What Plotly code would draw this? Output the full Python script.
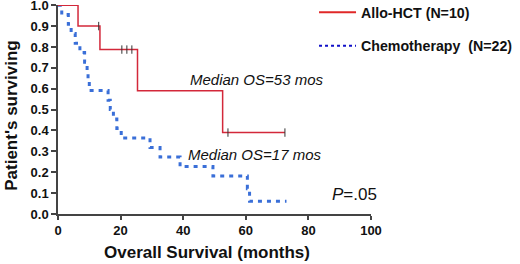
import plotly.graph_objects as go

# Allo-HCT (N=10) Kaplan-Meier steps
allo_t = [0, 6.4, 13.4, 25.4, 52.6, 72.5]
allo_s = [1.0, 0.9, 0.7875, 0.59, 0.39, 0.39]
allo_cens_t = [13.0, 20.4, 22.0, 23.6, 54.3, 72.5]
allo_cens_s = [0.9, 0.7875, 0.7875, 0.7875, 0.39, 0.39]

# Chemotherapy (N=22) Kaplan-Meier steps
chemo_t = [0, 1.2, 3.3, 4.2, 5.5, 7.0, 8.5, 9.3, 9.6, 10.0, 16.0, 16.7, 17.7,
           18.8, 20.2, 29.4, 32.6, 39.0, 49.5, 60.5, 61.2, 73.0]
chemo_s = [1.0, 0.955, 0.909, 0.864, 0.818, 0.773, 0.727, 0.682, 0.636, 0.591,
           0.545, 0.5, 0.455, 0.409, 0.364, 0.318, 0.273, 0.227, 0.182, 0.121,
           0.061, 0.061]

x_ticks = [0, 20, 40, 60, 80, 100]
y_ticks = [0.0, 0.1, 0.2, 0.3, 0.4, 0.5, 0.6, 0.7, 0.8, 0.9, 1.0]

RED = "#d3283a"
BLUE = "#3a6fd8"
FONT = "Liberation Sans, Arial, sans-serif"

fig = go.Figure()
fig.add_trace(go.Scatter(x=chemo_t, y=chemo_s, mode="lines", line_shape="hv",
                         line=dict(color=BLUE, width=3, dash="4px,5px"),
                         showlegend=False))
fig.add_trace(go.Scatter(x=allo_t, y=allo_s, mode="lines", line_shape="hv",
                         line=dict(color=RED, width=1.5), showlegend=False))
fig.add_trace(go.Scatter(x=allo_cens_t, y=allo_cens_s, mode="markers",
                         marker=dict(symbol="line-ns", size=6,
                                     line=dict(color="#333333", width=1)),
                         showlegend=False))
# legend entries
fig.add_trace(go.Scatter(x=[None], y=[None], mode="lines", legendgroup="a",
                         line=dict(color="#e02828", width=2),
                         name="<b>Allo-HCT (N=10)</b>"))
fig.add_trace(go.Scatter(x=[None], y=[None], mode="lines", legendgroup="b",
                         line=dict(color="#1010c8", width=2, dash="dot"),
                         name="<b>Chemotherapy  (N=22)</b>"))

fig.add_annotation(x=41.5, y=0.642, xref="x", yref="y", xanchor="left",
                   text="<i>Median OS=53 mos</i>", showarrow=False,
                   font=dict(family=FONT, size=15, color="#111111"))
fig.add_annotation(x=41.0, y=0.283, xref="x", yref="y", xanchor="left",
                   text="<i>Median OS=17 mos</i>", showarrow=False,
                   font=dict(family=FONT, size=15, color="#111111"))
fig.add_annotation(x=87.0, y=0.092, xref="x", yref="y", xanchor="left",
                   text="<i>P</i>=.05", showarrow=False,
                   font=dict(family=FONT, size=17, color="#111111"))
# axis titles
fig.add_annotation(x=0.476, y=-0.185, xref="paper", yref="paper",
                   xanchor="center", yanchor="middle",
                   text="<b>Overall Survival (months)</b>", showarrow=False,
                   font=dict(family=FONT, size=17, color="#111111"))
fig.add_annotation(x=-0.147, y=0.47, xref="paper", yref="paper",
                   xanchor="center", yanchor="middle", textangle=-90,
                   text="<b>Patient's surviving</b>", showarrow=False,
                   font=dict(family=FONT, size=17, color="#111111"))

fig.update_layout(
    width=520, height=264,
    margin=dict(l=58, r=149, t=5, b=50, autoexpand=False),
    paper_bgcolor="white", plot_bgcolor="white",
    font=dict(family=FONT, color="#111111"),
    legend=dict(x=0.818, y=1.04, xanchor="left", yanchor="top",
                xref="paper", yref="paper", itemwidth=37,
                font=dict(family=FONT, size=14.2, color="#111111"),
                bgcolor="rgba(0,0,0,0)", tracegroupgap=12),
    xaxis=dict(range=[0, 100], tickvals=x_ticks, automargin=False,
               ticktext=["<b>%d</b>" % v for v in x_ticks],
               showgrid=False, zeroline=False, showline=True,
               linecolor="#444444", linewidth=1.5, ticks="outside",
               ticklen=4, tickcolor="#444444", tickwidth=1.5,
               tickfont=dict(family=FONT, size=13),
               ticklabeloverflow="allow"),
    yaxis=dict(range=[0, 1.001], tickvals=y_ticks, automargin=False,
               ticktext=["<b>%.1f</b>" % v for v in y_ticks],
               showgrid=False, zeroline=False, showline=True,
               linecolor="#444444", linewidth=1.5, ticks="outside",
               ticklen=5, tickcolor="#444444", tickwidth=1.5,
               tickfont=dict(family=FONT, size=13),
               ticklabeloverflow="allow"),
)

fig.write_html("out.html", config={"displayModeBar": False},
               post_script="document.body.style.margin='0';"
                           "document.body.style.overflow='hidden';")
